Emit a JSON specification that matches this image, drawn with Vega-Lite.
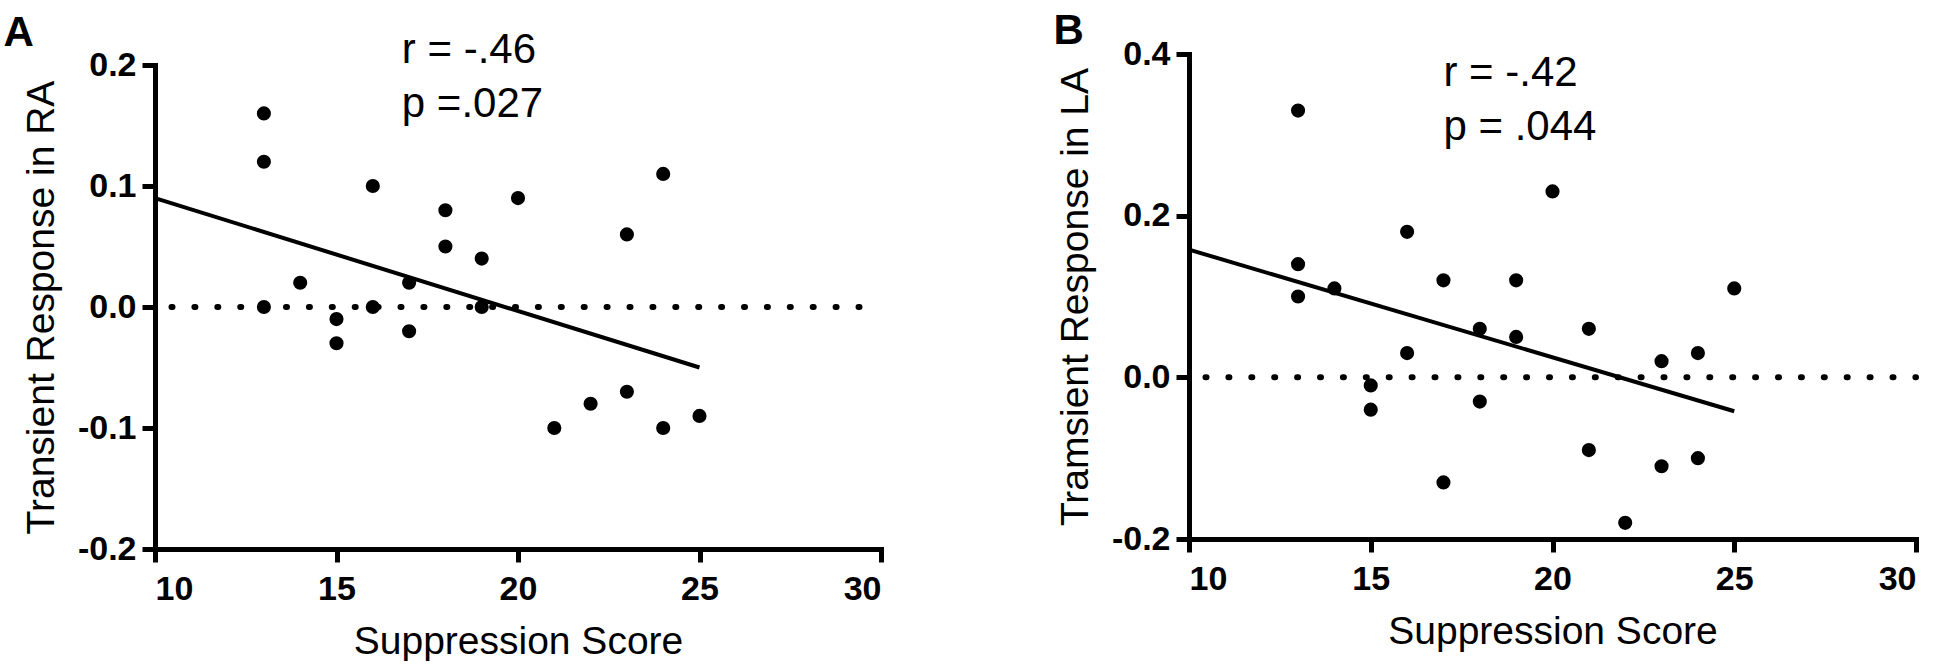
{
  "$schema": "https://vega.github.io/schema/vega-lite/v6.json",
  "background": "white",
  "padding": {"left": 3, "top": 10, "right": 0, "bottom": 0},
  "spacing": 169,
  "config": {
    "view": {"stroke": null},
    "font": "Liberation Sans",
    "axis": {
      "grid": false,
      "domainColor": "black",
      "domainWidth": 5,
      "domainCap": "square",
      "tickColor": "black",
      "tickWidth": 5,
      "tickSize": 13,
      "labelFont": "Liberation Sans",
      "labelFontWeight": "bold",
      "labelFontSize": 34,
      "labelColor": "black",
      "titleFont": "Liberation Sans",
      "titleFontWeight": "normal",
      "titleFontSize": 39,
      "titleColor": "black"
    },
    "axisX": {"labelPadding": 10, "titlePadding": 16},
    "axisY": {"labelPadding": 6, "titlePadding": 16},
    "title": {"font": "Liberation Sans", "fontSize": 42, "fontWeight": "bold", "color": "black", "anchor": "start", "frame": "bounds"}
  },
  "datasets": {
    "ra": [
      {"score": 13, "response": 0.16}, {"score": 13, "response": 0.12}, {"score": 13, "response": 0.0},
      {"score": 14, "response": 0.02},
      {"score": 15, "response": -0.01}, {"score": 15, "response": -0.03},
      {"score": 16, "response": 0.10}, {"score": 16, "response": 0.0},
      {"score": 17, "response": 0.02}, {"score": 17, "response": -0.02},
      {"score": 18, "response": 0.08}, {"score": 18, "response": 0.05},
      {"score": 19, "response": 0.04}, {"score": 19, "response": 0.0},
      {"score": 20, "response": 0.09},
      {"score": 21, "response": -0.10},
      {"score": 22, "response": -0.08},
      {"score": 23, "response": 0.06}, {"score": 23, "response": -0.07},
      {"score": 24, "response": 0.11}, {"score": 24, "response": -0.10},
      {"score": 25, "response": -0.09}
    ],
    "ra_fit": [{"score": 10, "response": 0.09}, {"score": 25, "response": -0.05}],
    "ra_stats": [{"score": 16.8, "response": 0.2013, "lines": ["r = -.46", "p =.027"]}],
    "la": [
      {"score": 13, "response": 0.33}, {"score": 13, "response": 0.14}, {"score": 13, "response": 0.10},
      {"score": 14, "response": 0.11},
      {"score": 15, "response": -0.01}, {"score": 15, "response": -0.04},
      {"score": 16, "response": 0.18}, {"score": 16, "response": 0.03},
      {"score": 17, "response": 0.12}, {"score": 17, "response": -0.13},
      {"score": 18, "response": 0.06}, {"score": 18, "response": -0.03},
      {"score": 19, "response": 0.12}, {"score": 19, "response": 0.05},
      {"score": 20, "response": 0.23},
      {"score": 21, "response": 0.06}, {"score": 21, "response": -0.09},
      {"score": 22, "response": -0.18},
      {"score": 23, "response": 0.02}, {"score": 23, "response": -0.11},
      {"score": 24, "response": 0.03}, {"score": 24, "response": -0.10},
      {"score": 25, "response": 0.11}
    ],
    "la_fit": [{"score": 10, "response": 0.158}, {"score": 25, "response": -0.042}],
    "la_stats": [{"score": 17.0, "response": 0.36, "lines": ["r = -.42", "p = .044"]}],
    "zero": [{"from": 10, "to": 30, "level": 0}]
  },
  "hconcat": [
    {
      "width": 726,
      "height": 495,
      "title": {"text": "A", "dx": -19, "offset": -26},
      "layer": [
        {
          "data": {"name": "zero"},
          "mark": {"type": "rule", "color": "black", "strokeWidth": 6, "strokeCap": "round", "strokeDash": [1, 21.9], "strokeDashOffset": 6.4},
          "encoding": {
            "x": {"field": "from", "type": "quantitative"},
            "x2": {"field": "to"},
            "y": {"field": "level", "type": "quantitative"}
          }
        },
        {
          "data": {"name": "ra"},
          "mark": {"type": "circle", "size": 200, "color": "black", "opacity": 1},
          "encoding": {
            "x": {
              "field": "score", "type": "quantitative",
              "scale": {"domain": [10, 30], "nice": false, "zero": false},
              "axis": {"title": "Suppression Score", "values": [10, 15, 20, 25, 30]}
            },
            "y": {
              "field": "response", "type": "quantitative",
              "scale": {"domain": [-0.2, 0.2], "nice": false, "range": [495, 11]},
              "axis": {"title": "Transient Response in RA", "values": [-0.2, -0.1, 0, 0.1, 0.2], "labelExpr": "replace(format(datum.value, '.1f'), '\u2212', '-')"}
            }
          }
        },
        {
          "data": {"name": "ra_fit"},
          "mark": {"type": "line", "color": "black", "strokeWidth": 4},
          "encoding": {"x": {"field": "score", "type": "quantitative"}, "y": {"field": "response", "type": "quantitative"}}
        },
        {
          "data": {"name": "ra_stats"},
          "mark": {"type": "text", "align": "left", "baseline": "alphabetic", "fontSize": 42, "lineHeight": 54, "color": "black"},
          "encoding": {
            "x": {"field": "score", "type": "quantitative"},
            "y": {"field": "response", "type": "quantitative"},
            "text": {"field": "lines"}
          }
        }
      ]
    },
    {
      "width": 727,
      "height": 485,
      "title": {"text": "B", "dx": -3, "offset": -16},
      "layer": [
        {
          "data": {"name": "zero"},
          "mark": {"type": "rule", "color": "black", "strokeWidth": 6, "strokeCap": "round", "strokeDash": [1, 21.9], "strokeDashOffset": 6.4},
          "encoding": {
            "x": {"field": "from", "type": "quantitative"},
            "x2": {"field": "to"},
            "y": {"field": "level", "type": "quantitative"}
          }
        },
        {
          "data": {"name": "la"},
          "mark": {"type": "circle", "size": 200, "color": "black", "opacity": 1},
          "encoding": {
            "x": {
              "field": "score", "type": "quantitative",
              "scale": {"domain": [10, 30], "nice": false, "zero": false},
              "axis": {"title": "Suppression Score", "values": [10, 15, 20, 25, 30]}
            },
            "y": {
              "field": "response", "type": "quantitative",
              "scale": {"domain": [-0.2, 0.4], "nice": false},
              "axis": {"title": "Tramsient Response in LA", "values": [-0.2, 0, 0.2, 0.4], "labelExpr": "replace(format(datum.value, '.1f'), '\u2212', '-')"}
            }
          }
        },
        {
          "data": {"name": "la_fit"},
          "mark": {"type": "line", "color": "black", "strokeWidth": 4},
          "encoding": {"x": {"field": "score", "type": "quantitative"}, "y": {"field": "response", "type": "quantitative"}}
        },
        {
          "data": {"name": "la_stats"},
          "mark": {"type": "text", "align": "left", "baseline": "alphabetic", "fontSize": 42, "lineHeight": 54, "color": "black"},
          "encoding": {
            "x": {"field": "score", "type": "quantitative"},
            "y": {"field": "response", "type": "quantitative"},
            "text": {"field": "lines"}
          }
        }
      ]
    }
  ]
}
